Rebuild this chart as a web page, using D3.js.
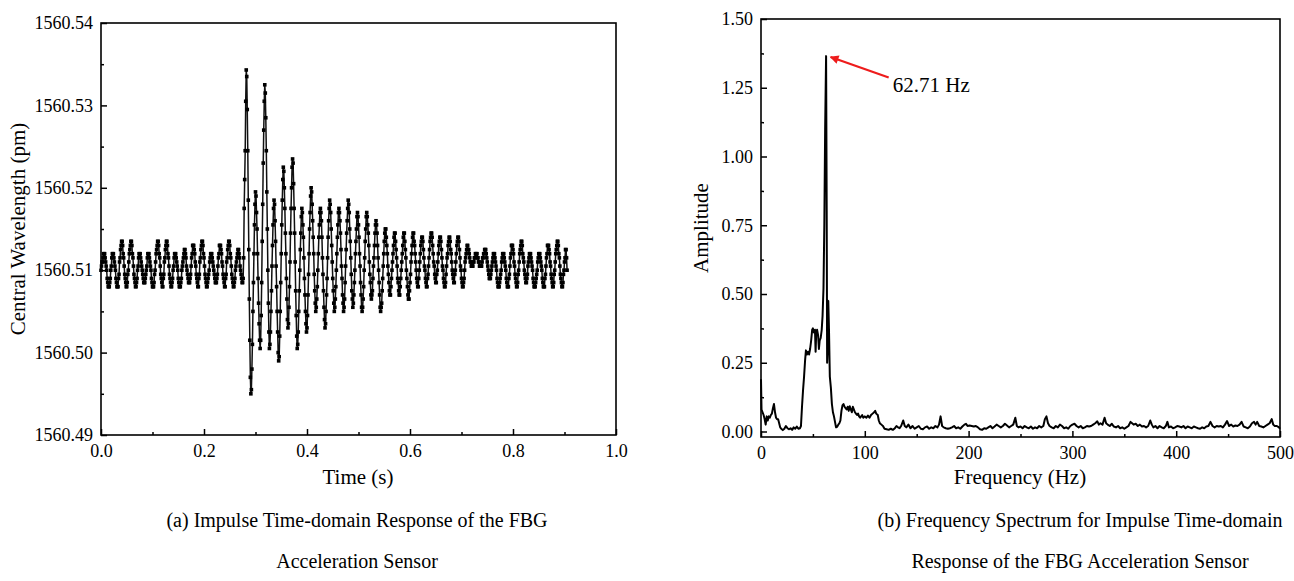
<!DOCTYPE html>
<html lang="en">
<head>
<meta charset="utf-8">
<title>FBG impulse response and spectrum</title>
<script src="https://cdn.jsdelivr.net/npm/d3@7"></script>
<style>
  body { margin: 0; background: #fff; }
  svg text { font-family: "Liberation Serif", "Times New Roman", serif; fill: #000; }
</style>
</head>
<body>
<script>
// ---- data ----
// (a) central wavelength, one sample per ms, stored as shift from 1560.510 pm in units of 0.001
var waveBase = 1560.51;
var waveUnit = 0.001;
var sampleStep = 0.001;
var waveShift = [
  0,0.5,1,1,1.5,2,2,
  2,1.5,1,0.5,0,-1,-1.5,-2,-2, -2,-1.5,-1,0,0.5,1.5,2,2,
  2,1.5,1,0.5,0,-1,-1.5,-2,-2, -2,-1,-0.5,1,1.5,2.5,3,3.5,
  3.5,3,2,1.5,0.5,-0.5,-1,-1.5,-2, -2,-1.5,-0.5,0,1,2,2.5,3,3.5,
  3.5,3,2,1.5,0.5,-0.5,-1,-1.5,-2, -2,-1.5,-1,0,0.5,1.5,2,2,
  2,1.5,1,0.5,0,-0.5,-1,-1.5,-1.5, -1.5,-1,-0.5,0,0.5,1.5,2,2,
  2,1.5,1,0.5,0,-1,-1.5,-2,-2, -2,-1.5,-0.5,0,1,2,2.5,3,3.5,
  3.5,3,2,1.5,0.5,-0.5,-1,-1.5,-2, -2,-1,-0.5,1,1.5,2.5,3,3.5,
  3.5,3,2,1.5,0.5,-0.5,-1,-1.5,-2, -2,-1.5,-1,0,0.5,1.5,2,2,
  2,1.5,1,0.5,0,-1,-1.5,-2,-2, -2,-1.5,-1,0,0.5,1,1.5,2,2.5,
  2.5,2,1.5,0.5,0,-0.5,-1,-1.5,-1.5, -1.5,-1,-0.5,0.5,1.5,2,3,3,
  3,2.5,2,1,0.5,-0.5,-1,-1.5,-2, -2,-1,-0.5,1,1.5,2.5,3,3.5,
  3.5,3,2,1.5,0.5,-0.5,-1,-1.5,-2, -2,-1.5,-1,-0.5,0,1,1.5,2,2,
  2,1.5,1,0.5,0,-0.5,-1,-1.5,-1.5, -1.5,-1,-0.5,0.5,1.5,2,3,3,
  3,2.5,2,1,0.5,-0.5,-1,-1.5,-2, -2,-1,-0.5,1,1.5,2.5,3,3.5,
  3.5,3,2,1.5,0.5,-0.5,-1,-1.5,-2, -2,-1.5,-1,0,0.5,1,1.5,2,2.5,
  2.5,2,1.5,0.5,0,-0.5,-1,-1.5,-1.5,-1,
  1.5,7.5,11,14.5,20.5,24.3,
  23.5,19.5,14.5,8.5,2.5,-3.5,-8.5,-13,-15,
  -14.5,-12,-9,-5,-1.5,2,5.5,8,9.5,
  9,7,5,2,-1,-4,-6.5,-8.5,-9.5,
  -8.5,-5.5,-1.5,3.5,8,13,17,20.5,22.5,
  21.5,18.5,14.5,9.5,5,0,-4,-7.5,-9.5,
  -9,-7.5,-5,-2.5,0.5,3,5.5,7.5,8.5,
  8,6,3.5,0.5,-2,-5,-7.5,-10,-11,
  -10.5,-8,-5,-1.5,2,5.5,8.5,11,12.5,
  12,10,7.5,4.5,2,-1,-3.5,-6,-7,
  -6.5,-4.5,-2,1,4.5,7.5,10,12.5,13.5,
  13,10.5,7.5,4.5,1,-2.5,-5.5,-8,-9.5,
  -9,-7.5,-5,-2.5,0,2.5,4.5,6.5,7.5,
  7,5.5,4,1.5,-1,-3,-5,-6.5,-7.5,
  -7,-5.5,-3,-0.5,2,5,7,9,10,
  9.5,8,6,4,2,-0.5,-2.5,-4,-5,
  -4.5,-3.5,-2,0,2,4,5.5,7,7.5,
  7,6,4,1.5,-0.5,-2.5,-4.5,-6,-7,
  -6.5,-5,-3,-1,1.5,4,6,7.5,8.5,
  8,7,5,3,1,-1,-2.5,-4,-5,
  -4.5,-3.5,-2,0,2,4,5.5,7,7.5,
  7,6,4.5,2.5,0.5,-1,-3,-4,-5,
  -4.5,-3.5,-1.5,0.5,2.5,4.5,6,7.5,8.5,
  8,7,5,3.5,1.5,-0.5,-2.5,-3.5,-4.5,
  -4,-3,-1.5,0,2,3.5,5,6.5,7,
  6.5,5.5,4,2,0.5,-1.5,-3,-4.5,-5,
  -4.5,-3.5,-2,0,1.5,3.5,5,6.5,7,
  6.5,5.5,4.5,3,1,-0.5,-1.5,-3,-3.5,
  -3,-2.5,-1,0.5,1.5,3,4.5,5.5,6,
  5.5,4.5,3,1.5,0,-1.5,-3,-4.5,-5,
  -4.5,-4,-2.5,-1,0.5,2,3.5,4.5,5,
  5,4,3,2,0.5,-0.5,-1.5,-2.5,-3,
  -3,-2,-1,0,1,2,3,4,4.5,
  4.5,3.5,2.5,1.5,0.5,-1,-1.5,-2.5,-3,
  -3,-2,-1,0,1,2,3,4,4.5,
  4.5,3.5,2.5,1.5,0,-1,-2,-3,-3.5,
  -3.5,-2.5,-1.5,-0.5,1,2,3,4,4.5,
  4.5,3.5,3,2,1,0,-1,-1.5,-2,
  -2,-1,0,1,2,3,3.5,4,
  4,3.5,2.5,1.5,0.5,0,-1,-1.5,-2,
  -2,-1,-0.5,0.5,1.5,2.5,3.5,4,4.5,
  4.5,4,3,2,1,0.5,-0.5,-1,-1.5,
  -1.5,-0.5,0,1,2,3,3.5,4,
  4,3.5,2.5,1.5,0.5,0,-1,-1.5,-2,
  -2,-1.5,-0.5,0.5,1.5,2,3,3.5,4,
  4,3.5,2.5,2,1,0,-0.5,-1,-1.5,
  -1.5,-0.5,0,1,2,3,3.5,4,
  4,3.5,2.5,1.5,0.5,0,-1,-1.5,-2,
  -2,-1.5,-1,0,1,1.5,2,2.5,3,
  3,2.5,2.5,2,1.5,1,1,0.5,0.5,
  0.5,0.5,1,1,1.5,1.5,2,2,
  2,2,1.5,1.5,1,1,0.5,0.5,0.5,
  0.5,0.5,1,1.5,1.5,2,2,2.5,2.5,
  2.5,2,1.5,1,0.5,0,-0.5,-1,-1,
  -1,-0.5,0,0.5,1,1.5,2,2,
  2,1.5,1,0.5,0,-1,-1.5,-2,-2,
  -2,-1.5,-1,-0.5,0,1,1.5,2,2,
  2,1.5,1,0.5,0,-1,-1.5,-2,-2,
  -2,-1,-0.5,0.5,1.5,2,3,3,
  3,2.5,2,1,0.5,-0.5,-1,-1.5,-2,
  -2,-1.5,-0.5,0,1,2,2.5,3,3.5,
  3.5,3,2,1.5,1,0,-0.5,-1,-1.5,
  -1.5,-1,-0.5,0.5,1,1.5,2,2,
  2,1.5,1,0.5,0,-1,-1.5,-2,-2,
  -2,-1.5,-1,-0.5,0,1,1.5,2,2,
  2,1.5,1,0.5,0,-1,-1.5,-2,-2,
  -2,-1,-0.5,0.5,1.5,2,3,3,
  3,2.5,2,1,0.5,-0.5,-1,-1.5,-2,
  -2,-1.5,-0.5,0,1,2,2.5,3,3.5,
  3.5,3,2,1.5,0.5,-0.5,-1,-1.5,-2,
  -2,-1.5,-0.5,0,1,1.5,2.5,2.5,
  1.5,0
];

// (b) amplitude spectrum
var specFreq = [
  0,0.5,1.5,2.5,3.5,4.5,5.5,6.5,7.5,8.5,9.5,10.5,11.5,12.5,13.5,14.5,15.5,16.5,17.5,18.5,19.5,
  21,22.5,24,25.5,27,28.5,30,31.5,33,34.5,36,37.5,38.5,39.5,40.5,41.5,42.5,43.3,44.3,45.3,46.3,
  47.3,48.3,49.3,50,51,52,52.6,53.2,54,55,55.8,56.5,57.5,58.5,59.3,60.2,61,61.8,62.71,63.3,63.7,
  64.2,64.8,65.5,66.3,67.3,68.3,69.3,70.3,71.3,72.3,73.5,74.5,75.5,76.5,77.5,78.5,79.5,80.5,81.5,
  82.5,83.5,84.5,85.5,86.5,87.5,88.5,89.5,90.5,91.5,92.5,93.5,94.5,95.5,96.5,97.5,98.5,100,101.5,
  103,104.5,106,107.5,109,110,111,112.5,113.5,114.5,116,117.5,119,121,123,125,127,129,130.5,132,
  133.5,135,137,138.5,140,142,144,146,148,150,152,154,156,158,160,162,164,166,168,170,171.5,173,
  174.5,176,178,180,182,184,186,188,190,192,194,196,197.5,199,201,203,205,207,209,211,213,215,217,
  219,221,223,225,227,229,231,233,235,237,239,241,243,245,246.5,248,250,252,254,256,258,260,262,
  264,266,268,270,272,273.5,275,276.5,278,280,282,284,286,288,290,292,294,296,298,300,302,304,306,
  308,310,312,314,316,318,320,322,324,325.5,327,329,331,332.5,334,336,338,340,342,344,346,348,350,
  352,354,356,357.5,359,361,363,365,367,369,371,373,375,376.5,378,380,382,384,386,388,390,391.5,
  393,395,397,399,401,403,405,407,409,411,413,415,417,419,421,423,425,427,429,431,433,435,437,439,
  441,443,445,447,449,451,453,455,457,459,461,463,465,467,469,471,473,475,476.5,478,480,482,484,
  486,488,490,492,493.5,495,497,499,500
];
var specAmp = [
  0.19,0.08,0.07,0.06,0.045,0.025,0.055,0.04,0.055,0.05,0.06,0.065,0.085,0.1,0.07,0.05,0.045,0.045,0.03,0.015,0.01,
  0.005,0.01,0.02,0.012,0.008,0.012,0.006,0.015,0.01,0.018,0.01,0.012,0.02,0.09,0.15,0.2,0.26,0.295,0.28,0.29,0.28,
  0.3,0.33,0.37,0.375,0.36,0.37,0.29,0.36,0.37,0.35,0.3,0.33,0.34,0.37,0.42,0.52,0.75,1.1,1.365,0.8,0.25,
  0.3,0.475,0.37,0.2,0.16,0.1,0.07,0.055,0.035,0.015,0.018,0.025,0.03,0.04,0.075,0.095,0.1,0.09,0.085,
  0.08,0.09,0.075,0.092,0.08,0.07,0.09,0.08,0.07,0.065,0.06,0.065,0.055,0.05,0.055,0.06,0.05,0.055,0.05,
  0.058,0.05,0.06,0.065,0.07,0.075,0.065,0.06,0.04,0.03,0.025,0.02,0.01,0.008,0.006,0.01,0.006,0.012,0.02,0.015,
  0.012,0.02,0.04,0.02,0.015,0.025,0.012,0.02,0.01,0.015,0.02,0.01,0.008,0.015,0.018,0.01,0.015,0.012,0.02,0.015,0.025,0.055,
  0.02,0.015,0.012,0.01,0.012,0.015,0.02,0.012,0.015,0.01,0.018,0.025,0.028,0.02,0.022,0.02,0.018,0.02,0.015,0.008,0.006,0.012,0.01,
  0.015,0.02,0.012,0.018,0.025,0.02,0.015,0.02,0.028,0.022,0.015,0.02,0.025,0.05,0.02,0.015,0.018,0.012,0.02,0.015,0.012,0.018,0.01,
  0.015,0.012,0.02,0.015,0.02,0.045,0.055,0.03,0.02,0.015,0.012,0.02,0.015,0.025,0.02,0.012,0.015,0.01,0.02,0.025,0.028,0.02,0.015,
  0.02,0.012,0.015,0.02,0.018,0.02,0.025,0.03,0.037,0.025,0.03,0.025,0.05,0.03,0.025,0.02,0.028,0.018,0.015,0.02,0.012,0.015,0.01,
  0.015,0.02,0.035,0.03,0.025,0.028,0.02,0.025,0.018,0.02,0.015,0.02,0.04,0.025,0.015,0.02,0.012,0.02,0.015,0.012,0.02,0.035,
  0.015,0.018,0.012,0.015,0.02,0.018,0.015,0.02,0.012,0.018,0.015,0.012,0.018,0.015,0.012,0.01,0.015,0.012,0.018,0.02,0.035,0.02,0.015,0.02,
  0.018,0.02,0.015,0.025,0.038,0.02,0.025,0.018,0.022,0.02,0.025,0.035,0.018,0.015,0.012,0.018,0.03,0.035,0.025,0.035,0.02,0.018,0.015,
  0.02,0.025,0.03,0.045,0.025,0.02,0.02,0.015,0.01
];

// ticks and labels
var timeTicks = [0, 0.2, 0.4, 0.6, 0.8, 1.0];
var timeMinor = [0.1, 0.3, 0.5, 0.7, 0.9];
var wlTicks = [1560.49, 1560.50, 1560.51, 1560.52, 1560.53, 1560.54];
var wlMinor = [1560.495, 1560.505, 1560.515, 1560.525, 1560.535];
var freqTicks = [0, 100, 200, 300, 400, 500];
var freqMinor = [50, 150, 250, 350, 450];
var ampTicks = [0, 0.25, 0.5, 0.75, 1.0, 1.25, 1.5];
var ampMinor = [0.125, 0.375, 0.625, 0.875, 1.125, 1.375];
var peakText = '62.71 Hz';
var captionA = ['(a) Impulse Time-domain Response of the FBG', 'Acceleration Sensor'];
var captionB = ['(b) Frequency Spectrum for Impulse Time-domain', 'Response of the FBG Acceleration Sensor'];

// ---- drawing ----
var width = 1294, height = 581;
var svg = d3.select('body').append('svg')
  .attr('width', width)
  .attr('height', height);

svg.append('defs').append('marker')
  .attr('id', 'arrow')
  .attr('viewBox', '0 0 10 10')
  .attr('refX', 9).attr('refY', 5)
  .attr('markerWidth', 5).attr('markerHeight', 4)
  .attr('markerUnits', 'strokeWidth')
  .attr('orient', 'auto')
  .append('path')
  .attr('d', 'M0,0 L10,5 L0,10 z')
  .attr('fill', '#ee1c1c');

// draws inward major + minor ticks on the bottom and left, and the box
function frame(g, x, y, xt, xm, yt, ym, xfmt, yfmt) {
  var r = x.range(), d = y.range();
  g.append('g')
    .attr('transform', 'translate(0,' + d[0] + ')')
    .call(d3.axisBottom(x).tickValues(xt).tickFormat(xfmt).tickSizeInner(-6).tickSizeOuter(0).tickPadding(9))
    .call(function (a) { a.select('.domain').remove(); });
  g.append('g')
    .attr('transform', 'translate(0,' + d[0] + ')')
    .call(d3.axisBottom(x).tickValues(xm).tickFormat('').tickSizeInner(-3).tickSizeOuter(0))
    .call(function (a) { a.select('.domain').remove(); });
  g.append('g')
    .attr('transform', 'translate(' + r[0] + ',0)')
    .call(d3.axisLeft(y).tickValues(yt).tickFormat(yfmt).tickSizeInner(-6).tickSizeOuter(0).tickPadding(8))
    .call(function (a) { a.select('.domain').remove(); });
  g.append('g')
    .attr('transform', 'translate(' + r[0] + ',0)')
    .call(d3.axisLeft(y).tickValues(ym).tickFormat('').tickSizeInner(-3).tickSizeOuter(0))
    .call(function (a) { a.select('.domain').remove(); });
  g.selectAll('.tick line').attr('stroke', '#000').attr('stroke-width', 1.5);
  g.selectAll('.tick text').attr('font-size', 18).attr('font-family', '"Liberation Serif", serif');
  g.append('rect')
    .attr('x', r[0]).attr('y', d[1])
    .attr('width', r[1] - r[0]).attr('height', d[0] - d[1])
    .attr('fill', 'none').attr('stroke', '#000').attr('stroke-width', 1.6);
}

// (a) time-domain response
var xT = d3.scaleLinear().domain([0, 1]).range([101, 616]);
var yW = d3.scaleLinear().domain([1560.49, 1560.54]).range([435, 23]);
var gA = svg.append('g');

var wave = waveShift.map(function (v, i) {
  return { t: i * sampleStep, w: waveBase + v * waveUnit };
});

gA.append('path')
  .datum(wave)
  .attr('fill', 'none')
  .attr('stroke', '#111')
  .attr('stroke-width', 1.5)
  .attr('d', d3.line().x(function (d) { return xT(d.t); }).y(function (d) { return yW(d.w); }));

gA.append('g').selectAll('rect')
  .data(wave)
  .enter()
  .append('rect')
  .attr('x', function (d) { return xT(d.t) - 1.8; })
  .attr('y', function (d) { return yW(d.w) - 1.8; })
  .attr('width', 3.6).attr('height', 3.6)
  .attr('fill', '#000');

frame(gA, xT, yW, timeTicks, timeMinor, wlTicks, wlMinor, d3.format('.1f'), d3.format('.2f'));

gA.append('text')
  .attr('x', 358).attr('y', 484)
  .attr('text-anchor', 'middle').attr('font-size', 21)
  .text('Time (s)');
gA.append('text')
  .attr('transform', 'translate(25,229) rotate(-90)')
  .attr('text-anchor', 'middle').attr('font-size', 21)
  .text('Central Wavelength (pm)');

// (b) frequency spectrum
var xF = d3.scaleLinear().domain([0, 500]).range([761, 1280]);
var yA = d3.scaleLinear().domain([-0.02, 1.5]).range([437, 19]);
var gB = svg.append('g');

gB.append('path')
  .datum(d3.zip(specFreq, specAmp))
  .attr('fill', 'none')
  .attr('stroke', '#000')
  .attr('stroke-width', 2)
  .attr('stroke-linejoin', 'round')
  .attr('d', d3.line().x(function (d) { return xF(d[0]); }).y(function (d) { return yA(d[1]); }));

frame(gB, xF, yA, freqTicks, freqMinor, ampTicks, ampMinor, d3.format('d'), d3.format('.2f'));

gB.append('line')
  .attr('x1', xF(123)).attr('y1', yA(1.287))
  .attr('x2', xF(67)).attr('y2', yA(1.362))
  .attr('stroke', '#ee1c1c').attr('stroke-width', 2.2)
  .attr('marker-end', 'url(#arrow)');
gB.append('text')
  .attr('x', xF(127)).attr('y', yA(1.236))
  .attr('font-size', 21)
  .text(peakText);

gB.append('text')
  .attr('x', 1020).attr('y', 484)
  .attr('text-anchor', 'middle').attr('font-size', 21)
  .text('Frequency (Hz)');
gB.append('text')
  .attr('transform', 'translate(708,228) rotate(-90)')
  .attr('text-anchor', 'middle').attr('font-size', 21)
  .text('Amplitude');

// captions
[[captionA, 357], [captionB, 1080]].forEach(function (c) {
  svg.append('g').selectAll('text')
    .data(c[0])
    .enter()
    .append('text')
    .attr('x', c[1])
    .attr('y', function (d, i) { return 527 + i * 41; })
    .attr('text-anchor', 'middle')
    .attr('font-size', 20)
    .text(function (d) { return d; });
});
</script>
</body>
</html>
